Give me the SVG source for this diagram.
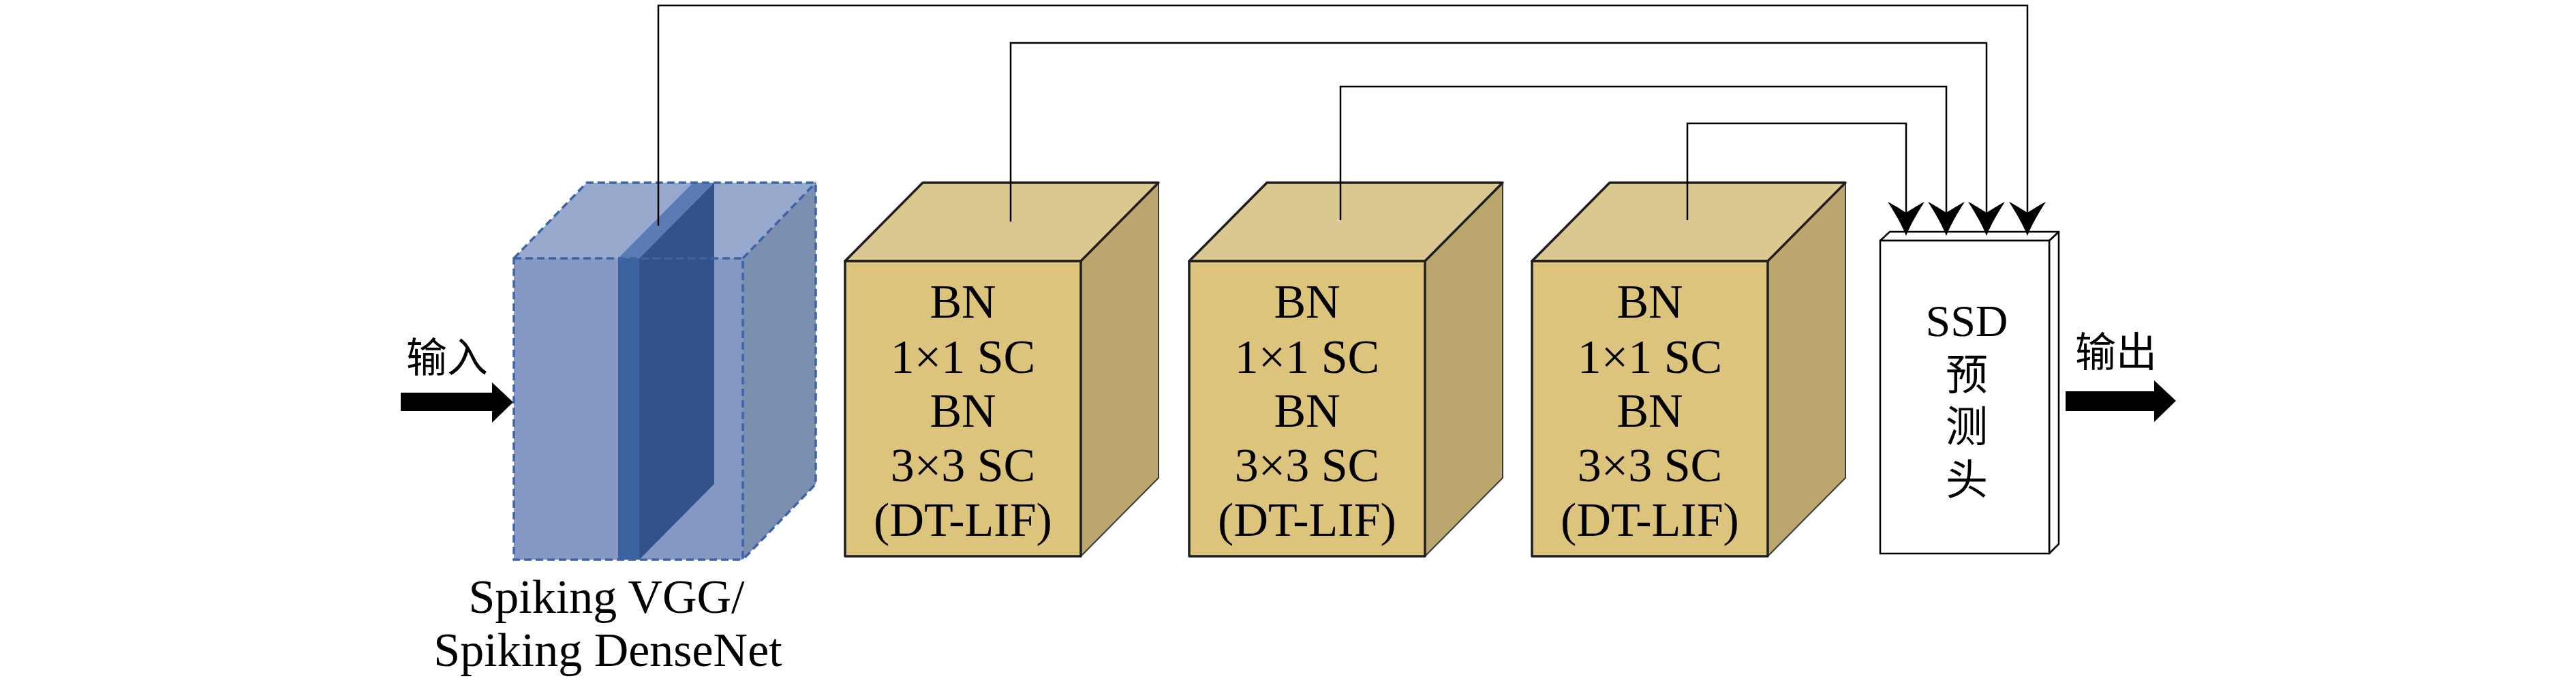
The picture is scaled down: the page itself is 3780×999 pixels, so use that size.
<svg xmlns="http://www.w3.org/2000/svg" width="3780" height="999" viewBox="0 0 3780 999">
<defs>
<style>
.txt{font-family:"Liberation Serif","Noto Sans CJK SC",serif;fill:#000;text-anchor:middle}
.lbl{font-size:70px}
.cjk{font-size:60px}
.gfront{fill:#dcc47d;stroke:#1e1e1e;stroke-width:3.5;stroke-linejoin:round}
.gtop{fill:#dbc891;stroke:#1e1e1e;stroke-width:3.5;stroke-linejoin:round}
.gside{fill:#bba76d;stroke:#3a3a3a;stroke-width:2;stroke-linejoin:round}
.dash{fill:none;stroke:#3d64a8;stroke-width:3.5;stroke-dasharray:11 6}
.conn{fill:none;stroke:#000;stroke-width:2.5}
.fat{fill:#000}
</style>
<marker id="ah" markerUnits="userSpaceOnUse" viewBox="-52 -30 54 60" markerWidth="54" markerHeight="60" refX="-12" refY="0" orient="auto">
<path d="M0,0 C-16,-6 -36,-18 -50,-27 C-42,-12 -37,-5 -34,0 C-37,5 -42,12 -50,27 C-36,18 -16,6 0,0Z" fill="#000"/>
</marker>
</defs>
<rect width="3780" height="999" fill="#fff"/>

<g id="backbone">
<polygon points="754,379 861,268 1197,268 1090,379" fill="#97a9cc"/>
<polygon points="1090,379 1197,268 1197,710 1090,821" fill="#7b8fb0"/>
<rect x="754" y="379" width="336" height="442" fill="#8599c4"/>
<polygon points="907,379 938,379 1048,268 1017,268" fill="#5a7bb3"/>
<polygon points="938,379 1048,268 1048,710 938,821" fill="#33528a"/>
<rect x="907" y="379" width="31" height="442" fill="#3d62a0"/>
<rect class="dash" x="754" y="379" width="336" height="442"/>
<path class="dash" d="M754,379 L861,268 H1197 V710 L1090,821 M1090,379 L1197,268"/>
<text class="txt lbl" x="890" y="899">Spiking VGG/</text>
<text class="txt lbl" x="892" y="977">Spiking DenseNet</text>
</g>

<g id="block1">
<polygon class="gside" points="1586,383 1700,268 1700,701 1586,816"/>
<polygon class="gtop" points="1240,383 1354,268 1700,268 1586,383"/>
<rect class="gfront" x="1240" y="383" width="346" height="433"/>
<text class="txt lbl" x="1413" y="466">BN</text>
<text class="txt lbl" x="1413" y="547">1×1 SC</text>
<text class="txt lbl" x="1413" y="626">BN</text>
<text class="txt lbl" x="1413" y="706">3×3 SC</text>
<text class="txt lbl" x="1413" y="786">(DT-LIF)</text>
</g>

<g id="block2">
<polygon class="gside" points="2091,383 2205,268 2205,701 2091,816"/>
<polygon class="gtop" points="1745,383 1859,268 2205,268 2091,383"/>
<rect class="gfront" x="1745" y="383" width="346" height="433"/>
<text class="txt lbl" x="1918" y="466">BN</text>
<text class="txt lbl" x="1918" y="547">1×1 SC</text>
<text class="txt lbl" x="1918" y="626">BN</text>
<text class="txt lbl" x="1918" y="706">3×3 SC</text>
<text class="txt lbl" x="1918" y="786">(DT-LIF)</text>
</g>

<g id="block3">
<polygon class="gside" points="2594,383 2708,268 2708,701 2594,816"/>
<polygon class="gtop" points="2248,383 2362,268 2708,268 2594,383"/>
<rect class="gfront" x="2248" y="383" width="346" height="433"/>
<text class="txt lbl" x="2421" y="466">BN</text>
<text class="txt lbl" x="2421" y="547">1×1 SC</text>
<text class="txt lbl" x="2421" y="626">BN</text>
<text class="txt lbl" x="2421" y="706">3×3 SC</text>
<text class="txt lbl" x="2421" y="786">(DT-LIF)</text>
</g>

<g id="ssd-head">
<polygon points="3007,353 3021,340 3021,798 3007,812" fill="#fff" stroke="#000" stroke-width="2.5" stroke-linejoin="round"/>
<polygon points="2759,353 2773,340 3021,340 3007,353" fill="#fff" stroke="#000" stroke-width="2.5" stroke-linejoin="round"/>
<rect x="2759" y="353" width="248" height="459" fill="#fff" stroke="#000" stroke-width="2.5"/>
<text class="txt" x="2886" y="493" font-size="66">SSD</text>
<text class="txt" x="2886" y="572" font-size="62">预</text>
<text class="txt" x="2886" y="648" font-size="62">测</text>
<text class="txt" x="2886" y="726" font-size="62">头</text>
</g>

<g id="input">
<text class="txt cjk" x="656" y="546">输入</text>
<polygon class="fat" points="588,576 722,576 722,561 753,590 722,620 722,603 588,603"/>
</g>

<g id="output">
<text class="txt cjk" x="3105" y="538">输出</text>
<polygon class="fat" points="3031,574 3161,574 3161,558 3193,588 3161,619 3161,603 3031,603"/>
</g>

<g id="connectors">
<path class="conn" marker-end="url(#ah)" d="M966,331 V8 H2975 V334"/>
<path class="conn" marker-end="url(#ah)" d="M1483,325 V63 H2915 V334"/>
<path class="conn" marker-end="url(#ah)" d="M1967,323 V127 H2856 V334"/>
<path class="conn" marker-end="url(#ah)" d="M2476,323 V181 H2797 V334"/>
</g>
</svg>
